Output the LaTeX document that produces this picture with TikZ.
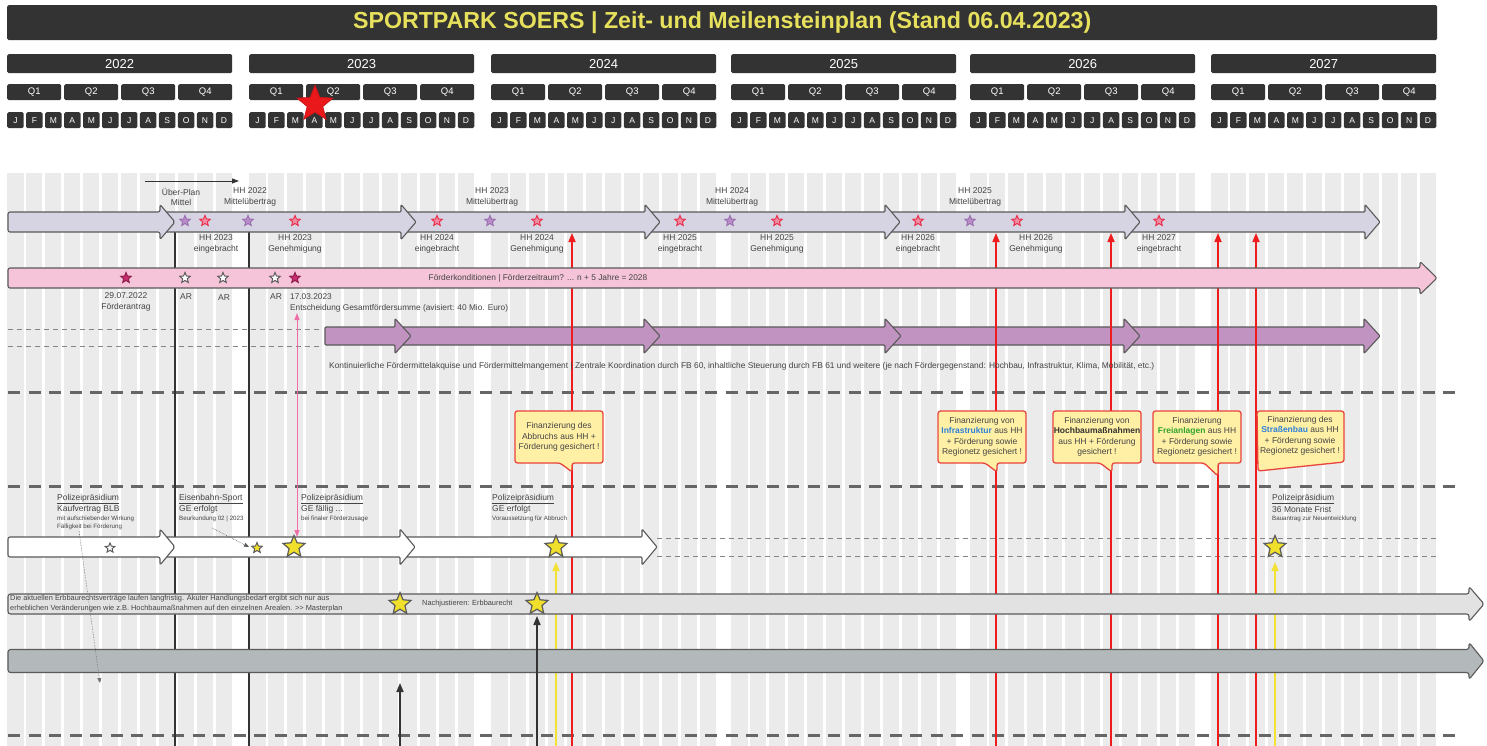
\documentclass[tikz,border=0pt]{standalone}
\usepackage{fontspec}
\setmainfont{Liberation Sans}
\usetikzlibrary{shapes.geometric,arrows.meta}
\definecolor{hdr}{HTML}{333333}
\definecolor{titley}{HTML}{E6E05C}
\definecolor{stripe}{HTML}{EBEBEB}
\definecolor{lav}{HTML}{D6D4E3}
\definecolor{pinkbar}{HTML}{F5C4D8}
\definecolor{orchid}{HTML}{C193C0}
\definecolor{lightbar}{HTML}{E2E2E2}
\definecolor{darkbar}{HTML}{B3B8BA}
\definecolor{outl}{HTML}{5A5A5A}
\definecolor{txt}{HTML}{444444}
\definecolor{cfill}{HTML}{FFF0A6}
\definecolor{cborder}{HTML}{E8433C}
\definecolor{redl}{HTML}{EE1C1C}
\definecolor{yell}{HTML}{F2E234}
\definecolor{ystarfill}{HTML}{F0E02C}
\definecolor{rstar}{HTML}{E8304C}
\definecolor{rstarfill}{HTML}{F48CA4}
\definecolor{pstar}{HTML}{9C70B0}
\definecolor{pstarfill}{HTML}{B88DC8}
\definecolor{mstar}{HTML}{8E1F4E}
\definecolor{mstarfill}{HTML}{C72C6E}
\definecolor{pinkl}{HTML}{F06EA8}
\definecolor{dashc}{HTML}{666666}
\definecolor{bluet}{HTML}{2E7FD9}
\definecolor{greent}{HTML}{2FA52F}
\definecolor{bigred}{HTML}{E8181B}

\newcommand{\blockarrow}[7]{%
  \draw[#1] (#2,#4-#5) -- (#3-#7,#4-#5) -- (#3-#7,#4-#6) -- (#3,#4) -- (#3-#7,#4+#6) -- (#3-#7,#4+#5) -- (#2,#4+#5) -- cycle;}

\tikzset{
  hbox/.style={fill=hdr, rounded corners=1.5pt, text=white, anchor=north west, inner sep=0pt},
  arr/.style={draw=outl, line width=1.1pt, rounded corners=1pt, line join=round},
  lbl/.style={font=\fontsize{8.5}{10.5}\selectfont, align=center, text=txt, inner sep=0pt},
  lblw/.style={font=\fontsize{8.5}{10}\selectfont, anchor=west, text=txt, inner sep=0pt},
  lbls/.style={font=\fontsize{6.2}{7.5}\selectfont, anchor=west, text=txt, inner sep=0pt},
  ctext/.style={font=\fontsize{8.5}{10.5}\selectfont, align=center, text=txt, inner sep=0pt},
  callout/.style={fill=cfill, draw=cborder, line width=1.3pt, rounded corners=2.5pt, line join=round},
  starbase/.style={star, star points=5, star point ratio=2.2, inner sep=0pt, line width=1pt},
  sred/.style={starbase, minimum size=11pt, draw=rstar, fill=rstarfill},
  spur/.style={starbase, minimum size=11pt, draw=pstar, fill=pstarfill},
  smag/.style={starbase, minimum size=11pt, draw=mstar, fill=mstarfill},
  swhite/.style={starbase, minimum size=11pt, draw=outl, fill=white},
  sybig/.style={starbase, minimum size=23pt, draw=outl, fill=ystarfill, line width=1.2pt},
  sysmall/.style={starbase, minimum size=11pt, draw=outl, fill=ystarfill},
  thindash/.style={dashc!80, line width=1pt, dash pattern=on 5pt off 4pt},
  thickdash/.style={dashc, line width=3pt, dash pattern=on 12pt off 8.5pt},
  vdark/.style={hdr, line width=1.5pt},
  vred/.style={redl, line width=1.6pt, -{Triangle[length=9pt,width=7pt]}},
  vyel/.style={yell, line width=1.6pt, -{Triangle[length=9pt,width=7pt]}},
  vblk/.style={hdr, line width=1.6pt, -{Triangle[length=9pt,width=7pt]}},
}

\begin{document}
\begin{tikzpicture}[x=1pt,y=-1pt]
\useasboundingbox[fill=white] (0,0) rectangle (1487,746);

% background stripes
\foreach \yx in {7,249,491,731,970,1211}{
  \foreach \m in {0,...,11}{
    \fill[stripe] ({\yx+\m*18.96},173) rectangle ({\yx+\m*18.96+16.5},746);
  }
}

% header
\node[hbox, minimum width=1430pt, minimum height=35pt, text=titley, font=\fontsize{23.2}{27}\selectfont\bfseries] (title) at (7,5) {SPORTPARK SOERS | Zeit- und Meilensteinplan (Stand 06.04.2023)};
\foreach \yr/\yx in {2022/7,2023/249,2024/491,2025/731,2026/970,2027/1211}{
  \node[hbox, minimum width=225pt, minimum height=19pt, font=\fontsize{13}{15}\selectfont] (y\yr) at (\yx,54) {\yr};
  \foreach \ql [count=\qi from 0] in {Q1,Q2,Q3,Q4}{
    \node[hbox, minimum width=54pt, minimum height=16pt, font=\fontsize{9.5}{11}\selectfont] (q\yr-\qi) at ({\yx+\qi*57},84) {\ql};
  }
  \foreach \ml [count=\mi from 0] in {J,F,M,A,M,J,J,A,S,O,N,D}{
    \node[hbox, minimum width=16.5pt, minimum height=16pt, font=\fontsize{8.5}{10}\selectfont] (m\yr-\mi) at ({\yx+\mi*18.96},112) {\ml};
  }
}
\node[star, star points=5, star point ratio=2.3, minimum size=38pt, inner sep=0pt, fill=bigred, draw=bigred!85!black, line width=0.6pt] (today) at (315,104) {};

% small top arrow
\coordinate (ta) at (145,181);
\coordinate (tb) at (239,181);
\draw[hdr, line width=0.9pt, -{Triangle[length=7pt,width=5pt]}] (ta) -- (tb);

% dashed separators
\coordinate (d1a) at (8,329);  \coordinate (d1b) at (322,329);
\coordinate (d2a) at (8,346);  \coordinate (d2b) at (322,346);
\draw[thindash] (d1a) -- (d1b);
\draw[thindash] (d2a) -- (d2b);
\coordinate (d3a) at (657,538); \coordinate (d3b) at (1438,538);
\coordinate (d4a) at (657,556); \coordinate (d4b) at (1438,556);
\draw[thindash] (d3a) -- (d3b);
\draw[thindash] (d4a) -- (d4b);
\coordinate (s1a) at (8,392);  \coordinate (s1b) at (1460,392);
\coordinate (s2a) at (8,486);  \coordinate (s2b) at (1460,486);
\coordinate (s3a) at (8,735);  \coordinate (s3b) at (1460,735);
\draw[thickdash] (s1a) -- (s1b);
\draw[thickdash] (s2a) -- (s2b);
\draw[thickdash] (s3a) -- (s3b);

% purple arrows
\blockarrow{arr, fill=orchid}{1125}{1380}{336}{9}{17.5}{16}
\blockarrow{arr, fill=orchid}{886}{1140}{336}{9}{17.5}{16}
\blockarrow{arr, fill=orchid}{645}{901}{336}{9}{17.5}{16}
\blockarrow{arr, fill=orchid}{396}{660}{336}{9}{17.5}{16}
\blockarrow{arr, fill=orchid}{325}{411}{336}{9}{17.5}{16}

% vertical lines
\coordinate (v1t) at (175,232); \coordinate (v1b) at (175,746);
\coordinate (v2t) at (249,228); \coordinate (v2b) at (249,746);
\draw[vdark] (v1t) -- (v1b);
\draw[vdark] (v2t) -- (v2b);
\foreach \rx in {572,996,1111,1218,1256}{
  \coordinate (r\rx b) at (\rx,746);
  \coordinate (r\rx t) at (\rx,233);
  \draw[vred] (r\rx b) -- (r\rx t);
}
\coordinate (ya1) at (556,746); \coordinate (ya2) at (556,562);
\coordinate (yb1) at (1275,746); \coordinate (yb2) at (1275,562);
\draw[vyel] (ya1) -- (ya2);
\draw[vyel] (yb1) -- (yb2);

% lavender arrows
\blockarrow{arr, fill=lav}{1125}{1380}{222}{10}{17.5}{15}
\blockarrow{arr, fill=lav}{885}{1140}{222}{10}{17.5}{15}
\blockarrow{arr, fill=lav}{645}{900}{222}{10}{17.5}{15}
\blockarrow{arr, fill=lav}{401}{660}{222}{10}{17.5}{15}
\blockarrow{arr, fill=lav}{160}{416}{222}{10}{17.5}{15}
\blockarrow{arr, fill=lav, rounded corners=2pt}{8}{175}{222}{10}{17.5}{15}

% pink bar
\blockarrow{arr, fill=pinkbar, rounded corners=2pt}{8}{1437}{278}{10}{16.5}{17}
\node[font=\fontsize{8.35}{10}\selectfont, text=txt] (fk) at (538,278) {Förderkonditionen | Förderzeitraum? ... n + 5 Jahre = 2028};

% white arrows
\blockarrow{arr, fill=white}{400}{657}{547}{10}{18}{15}
\blockarrow{arr, fill=white}{160}{415}{547}{10}{18}{15}
\blockarrow{arr, fill=white, rounded corners=2pt}{8}{175}{547}{10}{18}{15}

% light and dark bars
\blockarrow{arr, fill=lightbar, rounded corners=2.5pt}{8}{1484}{604}{10}{17.5}{15}
\blockarrow{arr, fill=darkbar, rounded corners=2.5pt}{8}{1484}{661}{11.5}{18.5}{15}

% dark arrows up
\coordinate (k1b) at (400,746); \coordinate (k1t) at (400,683);
\coordinate (k2b) at (537,746); \coordinate (k2t) at (537,616);
\draw[vblk] (k1b) -- (k1t);
\draw[vblk] (k2b) -- (k2t);

% stars row 1
\foreach \sx/\st [count=\si] in {185/spur,205/sred,248/spur,295/sred,437/sred,490/spur,537/sred,680/sred,730/spur,777/sred,918/sred,970/spur,1017/sred,1159/sred}{
  \node[\st] (h\si) at (\sx,221) {};
}
% stars pink row
\node[smag] (p1) at (126,278) {};
\node[swhite] (p2) at (185,278) {};
\node[swhite] (p3) at (223,278) {};
\node[swhite] (p4) at (275,278) {};
\node[smag] (p5) at (295,278) {};
% stars row 4
\node[swhite, minimum size=10pt] (w1) at (110,548) {};
\node[sysmall] (w2) at (257,548) {};
\node[sybig] (w3) at (294,547) {};
\node[sybig] (w4) at (556,547) {};
\node[sybig] (w5) at (1275,547) {};
% stars light bar
\node[sybig] (g1) at (400,604) {};
\node[sybig] (g2) at (537,604) {};

% pink double arrow
\coordinate (pk1) at (297,313);
\coordinate (pk2) at (297,537);
\draw[pinkl, line width=1pt, {Triangle[length=7pt,width=5pt]}-{Triangle[length=7pt,width=5pt]}] (pk1) -- (pk2);

% dotted arrows
\coordinate (dt1a) at (79,531); \coordinate (dt1b) at (100,683);
\draw[hdr!70, line width=0.6pt, densely dotted, -{Triangle[length=5pt,width=4pt]}] (dt1a) -- (dt1b);
\coordinate (dt2a) at (212,528); \coordinate (dt2b) at (249,547);
\draw[hdr!80, line width=0.6pt, densely dotted, -{Triangle[length=5pt,width=4pt]}] (dt2a) -- (dt2b);

% labels row 1
\node[lbl] (l1) at (181,197) {Über-Plan\\Mittel};
\node[lbl] (l2) at (250,197) {HH 2022\\Mittelübertrag};
\node[lbl] (l3) at (492,197) {HH 2023\\Mittelübertrag};
\node[lbl] (l4) at (732,197) {HH 2024\\Mittelübertrag};
\node[lbl] (l5) at (975,197) {HH 2025\\Mittelübertrag};
\node[lbl] (b1) at (216,244) {HH 2023\\eingebracht};
\node[lbl] (b2) at (295,244) {HH 2023\\Genehmigung};
\node[lbl] (b3) at (437,244) {HH 2024\\eingebracht};
\node[lbl] (b4) at (537,244) {HH 2024\\Genehmigung};
\node[lbl] (b5) at (680,244) {HH 2025\\eingebracht};
\node[lbl] (b6) at (777,244) {HH 2025\\Genehmigung};
\node[lbl] (b7) at (918,244) {HH 2026\\eingebracht};
\node[lbl] (b8) at (1036,244) {HH 2026\\Genehmigung};
\node[lbl] (b9) at (1159,244) {HH 2027\\eingebracht};

% labels pink row
\node[lbl] (f1) at (126,302) {29.07.2022\\Förderantrag};
\node[lbl] (f2) at (186,297) {AR};
\node[lbl] (f3) at (224,298) {AR};
\node[lbl] (f4) at (276,297) {AR};
\node[lblw, font=\fontsize{8.3}{10}\selectfont] (f5) at (290,297) {17.03.2023};
\node[lblw, font=\fontsize{8.3}{10}\selectfont] (f6) at (290,308) {Entscheidung Gesamtfördersumme (avisiert: 40 Mio. Euro)};

% purple row text
\node[lblw, font=\fontsize{8.4}{10}\selectfont] (ptxt) at (329,366) {Kontinuierliche Fördermittelakquise und Fördermittelmangement | Zentrale Koordination durch FB 60, inhaltliche Steuerung durch FB 61 und weitere (je nach Fördergegenstand: Hochbau, Infrastruktur, Klima, Mobilität, etc.)};

% callouts
\draw[callout] (515,411) -- (603,411) -- (603,463) -- (572,463) -- (572,472) -- (560,463) -- (515,463) -- cycle;
\node[ctext] (c1) at (559,437) {Finanzierung des\\Abbruchs aus HH +\\Förderung gesichert !};
\draw[callout] (938,411) -- (1026,411) -- (1026,463) -- (997,463) -- (997,472) -- (985,463) -- (938,463) -- cycle;
\node[ctext] (c2) at (982,437) {Finanzierung von\\\textcolor{bluet}{\bfseries Infrastruktur} aus HH\\+ Förderung sowie\\Regionetz gesichert !};
\draw[callout] (1053,411) -- (1141,411) -- (1141,463) -- (1112,463) -- (1112,472) -- (1100,463) -- (1053,463) -- cycle;
\node[ctext] (c3) at (1097,437) {Finanzierung von\\\textcolor{hdr}{\bfseries Hochbaumaßnahmen}\\aus HH + Förderung\\gesichert !};
\draw[callout] (1153,411) -- (1241,411) -- (1241,463) -- (1218,463) -- (1218,476) -- (1204,463) -- (1153,463) -- cycle;
\node[ctext] (c4) at (1197,437) {Finanzierung\\\textcolor{greent}{\bfseries Freianlagen} aus HH\\+ Förderung sowie\\Regionetz gesichert !};
\draw[callout] (1257,411) -- (1344,411) -- (1344,462) -- (1258,471) -- cycle;
\node[ctext] (c5) at (1300,436) {Finanzierung des\\\textcolor{bluet}{\bfseries Straßenbau} aus HH\\+ Förderung sowie\\Regionetz gesichert !};

% row 4 labels
\node[lblw] (a1) at (57,499) {\underline{Polizeipräsidium}};
\node[lblw] (a2) at (57,509) {Kaufvertrag BLB};
\node[lbls] (a3) at (57,519) {mit aufschiebender Wirkung};
\node[lbls] (a4) at (57,527) {Fälligkeit bei Förderung};
\node[lblw] (e1) at (179,499) {\underline{Eisenbahn-Sport}};
\node[lblw] (e2) at (179,509) {GE erfolgt};
\node[lbls] (e3) at (179,519) {Beurkundung 02 | 2023};
\node[lblw] (o1) at (301,499) {\underline{Polizeipräsidium}};
\node[lblw] (o2) at (301,509) {GE fällig ...};
\node[lbls] (o3) at (301,519) {bei finaler Förderzusage};
\node[lblw] (u1) at (492,499) {\underline{Polizeipräsidium}};
\node[lblw] (u2) at (492,509) {GE erfolgt};
\node[lbls] (u3) at (492,519) {Voraussetzung für Abbruch};
\node[lblw] (n1) at (1272,499) {\underline{Polizeipräsidium}};
\node[lblw] (n2) at (1272,509) {36 Monate Frist};
\node[lbls] (n3) at (1272,519) {Bauantrag zur Neuentwicklung};

% light bar text
\node[lbls, font=\fontsize{7.4}{9}\selectfont] (eb1) at (10,599) {Die aktuellen Erbbaurechtsverträge laufen langfristig. Akuter Handlungsbedarf ergibt sich nur aus};
\node[lbls, font=\fontsize{7.4}{9}\selectfont] (eb2) at (10,609) {erheblichen Veränderungen wie z.B. Hochbaumaßnahmen auf den einzelnen Arealen. >{}> Masterplan};
\node[lbls, font=\fontsize{7.4}{9}\selectfont] (eb3) at (422,604) {Nachjustieren: Erbbaurecht};
\end{tikzpicture}
\end{document}
